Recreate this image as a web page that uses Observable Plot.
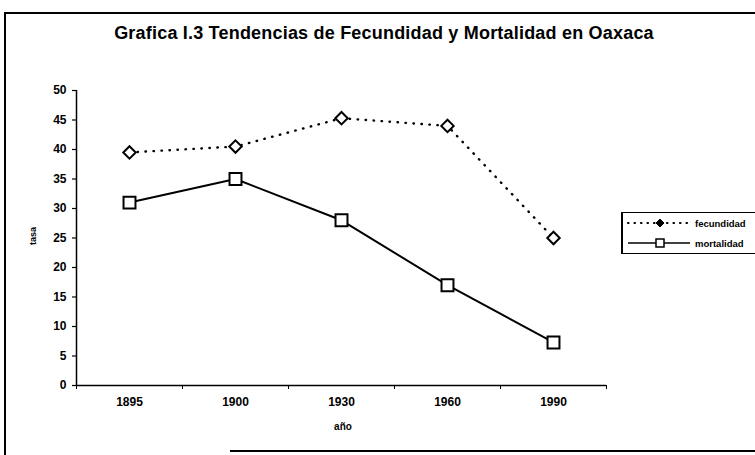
<!DOCTYPE html>
<html>
<head>
<meta charset="utf-8">
<script src="https://cdn.jsdelivr.net/npm/d3@7"></script>
<script src="https://cdn.jsdelivr.net/npm/@observablehq/plot@0.6"></script>
<style>
  html, body { margin: 0; padding: 0; background: #fff; }
  #wrap { position: relative; width: 755px; height: 455px; overflow: hidden;
          font-family: "Liberation Sans", Arial, sans-serif; font-weight: bold; color: #000; }
  #wrap svg.chart { position: absolute; left: 0; top: 0; }
  .title { position: absolute; left: 0; width: 768px; top: 23px; text-align: center; font-size: 18px; letter-spacing: 0.2px; }
  .xlab { position: absolute; left: 318px; width: 50px; top: 421px; text-align: center; font-size: 10px; }
  .ylab { position: absolute; left: 13px; top: 231px; width: 40px; text-align: center; font-size: 9px;
          transform: rotate(-90deg); }
  .bl { position: absolute; left: 4px; top: 12px; width: 2px; height: 443px; background: #000; }
  .bt { position: absolute; left: 4px; top: 12px; width: 760px; height: 2px; background: #000; }
  .bb { position: absolute; left: 230px; top: 450px; width: 530px; height: 2px; background: #000; }
  .legend { position: absolute; left: 621px; top: 212px; width: 150px; height: 42px;
            border: 1px solid #000; border-left-width: 2px; box-sizing: border-box; }
  .legend .row { position: absolute; left: 3px; height: 14px; display: flex; align-items: center; }
  .legend .row span { font-size: 9.5px; margin-left: 3px; }
</style>
</head>
<body>
<div id="wrap">
  <div class="bl"></div><div class="bt"></div><div class="bb"></div>
  <div class="title">Grafica I.3 Tendencias de Fecundidad y Mortalidad en Oaxaca</div>
  <div class="xlab">año</div>
  <div class="ylab">tasa</div>
  <div class="legend" id="legend"></div>
</div>
<script>
// ---- data ----
const years = ["1895", "1900", "1930", "1960", "1990"];
const fecundidad = [39.5, 40.5, 45.3, 44, 25];
const mortalidad = [31, 35, 28, 17, 7.3];
const yTicks = [0, 5, 10, 15, 20, 25, 30, 35, 40, 45, 50];
const seriesNames = ["fecundidad", "mortalidad"];

// ---- layout ----
const W = 755, H = 455;
const mL = 76, mR = 149, mT = 90, mB = 70;
const step = (W - mL - mR) / years.length;

const fec = years.map((y, i) => ({year: y, value: fecundidad[i]}));
const mort = years.map((y, i) => ({year: y, value: mortalidad[i]}));

const chart = Plot.plot({
  width: W, height: H,
  marginLeft: mL, marginRight: mR, marginTop: mT, marginBottom: mB,
  style: {background: "transparent", fontFamily: "'Liberation Sans', Arial, sans-serif", fontWeight: "bold", color: "#000"},
  x: {type: "point", domain: years, padding: 0.5, label: null},
  y: {domain: [0, 50], label: null},
  marks: [
    Plot.axisY({ticks: yTicks, tickSize: 4, tickPadding: 6, fontSize: 12, fontWeight: "bold", label: null, strokeWidth: 1.2}),
    Plot.axisX({tickSize: 0, tickPadding: 12, fontSize: 12, fontWeight: "bold", label: null}),
    Plot.ruleY([0], {stroke: "#000", strokeWidth: 1.5}),
    Plot.ruleX([years[0]], {x: d => d, dx: -step / 2, y1: 0, y2: 50, stroke: "#000", strokeWidth: 1.5}),
    Plot.ruleX(years, {x: d => d, dx: -step / 2, y1: 0, y2: 0, insetTop: 4, stroke: "#000", strokeWidth: 1}),
    Plot.ruleX([years[years.length - 1]], {x: d => d, dx: step / 2, y1: 0, y2: 0, insetTop: 4, stroke: "#000", strokeWidth: 1}),
    Plot.line(fec, {x: "year", y: "value", stroke: "#000", strokeWidth: 2.4, strokeDasharray: "0.5,7.5", strokeLinecap: "round"}),
    Plot.line(mort, {x: "year", y: "value", stroke: "#000", strokeWidth: 2}),
    Plot.dot(fec, {x: "year", y: "value", symbol: "diamond2", r: 5.6, fill: "#fff", stroke: "#000", strokeWidth: 2}),
    Plot.dot(mort, {x: "year", y: "value", symbol: "square2", r: 7.6, fill: "#fff", stroke: "#000", strokeWidth: 2})
  ]
});
chart.classList.add("chart");
document.getElementById("wrap").prepend(chart);

// ---- legend ----
const lg = document.getElementById("legend");
const ns = "http://www.w3.org/2000/svg";
seriesNames.forEach((name, i) => {
  const row = document.createElement("div");
  row.className = "row";
  row.style.top = (i === 0 ? 3 : 23) + "px";
  const s = document.createElementNS(ns, "svg");
  s.setAttribute("width", 66); s.setAttribute("height", 14);
  const ln = document.createElementNS(ns, "line");
  ln.setAttribute("x1", 2); ln.setAttribute("x2", 64); ln.setAttribute("y1", 7); ln.setAttribute("y2", 7);
  ln.setAttribute("stroke", "#000");
  if (i === 0) {
    ln.setAttribute("stroke-width", 2.2); ln.setAttribute("stroke-dasharray", "0.5,6"); ln.setAttribute("stroke-linecap", "round");
  } else { ln.setAttribute("stroke-width", 1.5); }
  s.appendChild(ln);
  if (i === 0) {
    const p = document.createElementNS(ns, "path");
    p.setAttribute("d", "M34,3 L38,7 L34,11 L30,7 Z");
    p.setAttribute("fill", "#000"); p.setAttribute("stroke", "#000"); p.setAttribute("stroke-width", 1);
    s.appendChild(p);
  } else {
    const r = document.createElementNS(ns, "rect");
    r.setAttribute("x", 30); r.setAttribute("y", 3); r.setAttribute("width", 8); r.setAttribute("height", 8);
    r.setAttribute("fill", "#fff"); r.setAttribute("stroke", "#000"); r.setAttribute("stroke-width", 1.5);
    s.appendChild(r);
  }
  row.appendChild(s);
  const t = document.createElement("span");
  t.textContent = name;
  row.appendChild(t);
  lg.appendChild(row);
});
</script>
</body>
</html>
